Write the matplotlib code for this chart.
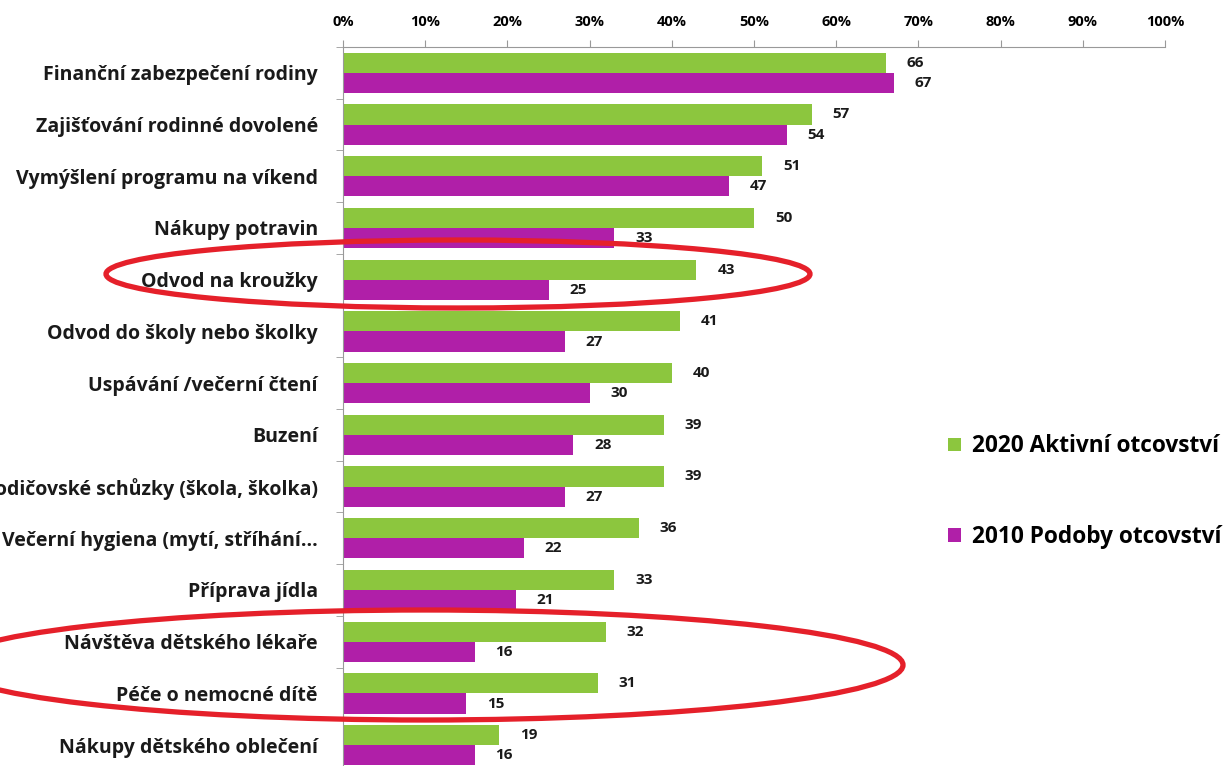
import matplotlib.pyplot as plt
import numpy as np
from matplotlib.patches import Ellipse

plt.rcParams['font.family'] = ['Open Sans', 'DejaVu Sans']

categories = [
    "Finanční zabezpečení rodiny",
    "Zajišťování rodinné dovolené",
    "Vymýšlení programu na víkend",
    "Nákupy potravin",
    "Odvod na kroužky",
    "Odvod do školy nebo školky",
    "Uspávání /večerní čtení",
    "Buzení",
    "Rodičovské schůzky (škola, školka)",
    "Večerní hygiena (mytí, stříhání...",
    "Příprava jídla",
    "Návštěva dětského lékaře",
    "Péče o nemocné dítě",
    "Nákupy dětského oblečení",
]
values_2020 = [66, 57, 51, 50, 43, 41, 40, 39, 39, 36, 33, 32, 31, 19]
values_2010 = [67, 54, 47, 33, 25, 27, 30, 28, 27, 22, 21, 16, 15, 16]
labels = ["2020 Aktivní otcovství", "2010 Podoby otcovství"]

green = '#8CC63E'
purple = '#B01FA8'

fig = plt.figure(figsize=(12.32, 7.66), dpi=100)
ax = fig.add_axes([343 / 1232, -5 / 766, 822 / 1232, 724 / 766])

y = np.arange(len(categories))
h = 0.39
b1 = ax.barh(y - h / 2, values_2020, height=h, color=green, label=labels[0])
b2 = ax.barh(y + h / 2, values_2010, height=h, color=purple, label=labels[1])

for bars, vals in ((b1, values_2020), (b2, values_2010)):
    for bar, v in zip(bars, vals):
        ax.annotate(str(v), (bar.get_width(), bar.get_y() + bar.get_height() / 2),
                    xytext=(15, 0), textcoords='offset points', va='center', ha='left',
                    fontsize=11, fontweight='bold', color='#1a1a1a')

ax.set_xlim(0, 100)
ax.set_ylim(len(categories) - 0.5, -0.5)
ax.xaxis.tick_top()
ax.set_xticks(np.arange(0, 101, 10))
ax.set_xticklabels([f"{t}%" for t in range(0, 101, 10)], fontsize=10.5, fontweight='bold')
ax.tick_params(axis='x', length=5, color='#999999', pad=8)

ax.set_yticks(y)
ax.set_yticklabels(categories, fontsize=14, fontweight='bold', color='#1a1a1a')
ax.set_yticks(np.arange(-0.5, len(categories), 1), minor=True)
ax.tick_params(axis='y', which='major', length=0, pad=18)
ax.tick_params(axis='y', which='minor', length=5, color='#999999')

for s in ('right', 'bottom'):
    ax.spines[s].set_visible(False)
for s in ('top', 'left'):
    ax.spines[s].set_color('#999999')

fig.legend(handles=[b1, b2], loc='upper left', bbox_to_anchor=(928 / 1232, 1 - 414 / 766),
           frameon=False, prop={'weight': 'bold', 'size': 16.3},
           handlelength=0.55, handleheight=0.55, handletextpad=0.5, labelspacing=2.95)

# red hand-drawn highlights
over = fig.add_axes([0, 0, 1, 1], facecolor='none')
over.set_xlim(0, 1232)
over.set_ylim(766, 0)
over.axis('off')
over.add_patch(Ellipse((458, 274), 704, 68, fill=False, edgecolor='#E5202A', lw=3.8))
over.add_patch(Ellipse((425, 665), 956, 110, fill=False, edgecolor='#E5202A', lw=3.8))

plt.savefig('out.png', dpi=100)
